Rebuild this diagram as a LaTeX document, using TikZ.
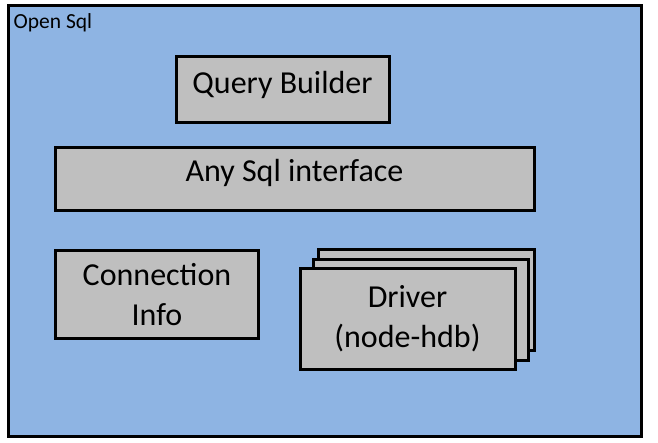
\documentclass[tikz,border=0pt]{standalone}
\usepackage{fontspec}
\setmainfont{Carlito}
\definecolor{himmel}{HTML}{8EB4E3}
\definecolor{graa}{HTML}{BFBFBF}
\tikzset{
	%Define style for the outer frame
	ramme/.style={
		rectangle,
		draw=black, line width=3pt,
		fill=himmel,
		minimum width=633pt,
		minimum height=430pt},
	%Define style for boxes
	blokk/.style={
		rectangle,
		draw=black, line width=3pt,
		fill=graa,
		inner sep=0pt,
		align=center,
		font=\fontsize{32}{40}\selectfont},
}

\begin{document}
\begin{tikzpicture}[x=1pt, y=-1pt]
	\useasboundingbox (0,0) rectangle (658,443);
	
	\node[ramme] (opensql) at (324.5,221) {};
	\node[anchor=base west, inner sep=0pt, font=\fontsize{21.5}{26}\selectfont] (title) at ([shift={(7pt,-24pt)}]opensql.north west) {Open Sql};
	
	\node[blokk, minimum width=213pt, minimum height=66pt, text height=22pt, text depth=14pt] (querybuilder) at (282.5,90) {Query Builder};
	\node[blokk, minimum width=479pt, minimum height=63pt, text height=22pt, text depth=18pt] (anysql) at (294.5,179.5) {Any Sql interface};
	\node[blokk, minimum width=203.5pt, minimum height=87pt] (conninfo) at (157,294.5) {Connection\\Info};
	
	% driver stack, back to front
	\node[blokk, minimum width=216pt, minimum height=100pt] (driver3) at (426,300) {};
	\node[blokk, minimum width=215pt, minimum height=100pt] (driver2) at (420.5,310) {};
	\node[blokk, minimum width=215pt, minimum height=100pt] (driver) at (407.5,319) {Driver\\(node-hdb)};
	
\end{tikzpicture}
\end{document}
